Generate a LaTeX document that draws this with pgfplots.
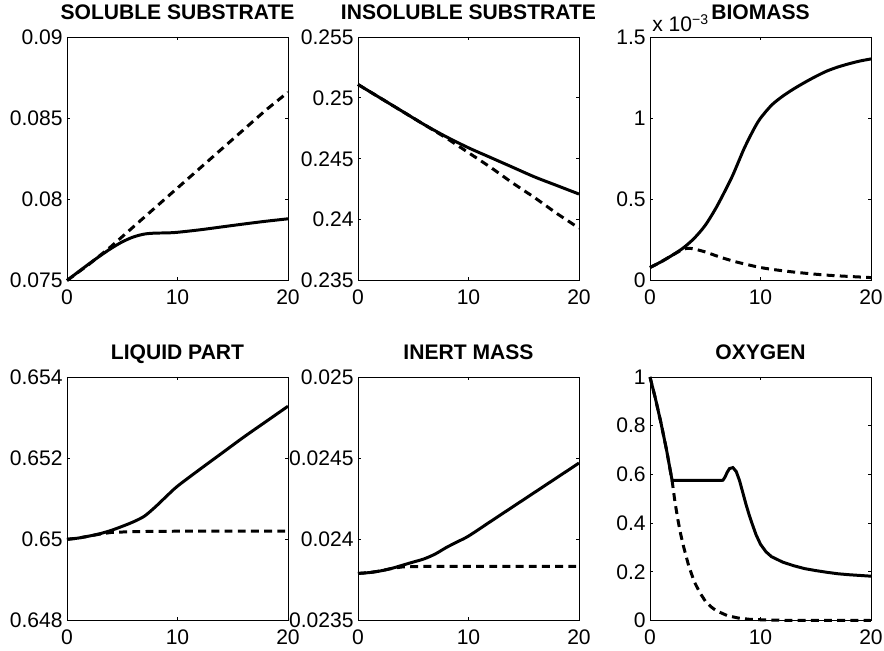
\documentclass[border=0pt]{standalone}
\usepackage{fontspec}
\setmainfont{Liberation Sans}
\usepackage{pgfplots}
\pgfplotsset{compat=1.18}

\pgfplotsset{
  mat/.style={
    scale only axis, width=4.42cm, height=4.87cm,
    anchor=north west,
    xmin=0, xmax=20, xtick={0,10,20}, xticklabels={0,10,20},
    tick align=inside, major tick length=0.06cm,
    axis line style={line width=0.5pt},
    every tick/.style={black, line width=0.5pt},
    ticklabel style={font=\fontsize{12}{14}\selectfont},
    yticklabel style={anchor=east, inner sep=0pt, xshift=-0.08cm},
    xticklabel style={anchor=north, inner sep=0pt, yshift=-0.18cm},
    every axis title/.style={font=\bfseries\fontsize{12}{14}\selectfont,
      at={(0.5,1)}, anchor=base, inner sep=0pt, yshift=0.34cm},
    scaled ticks=false,
    clip=false,
  },
  sol/.style={black, line width=1.7pt},
  das/.style={black, line width=1.7pt, dash pattern=on 4.5pt off 3pt},
}

\begin{document}
\begin{tikzpicture}
\useasboundingbox (0,0) rectangle (17.68cm,-13.02cm);

% soluble substrate
\begin{axis}[mat, at={(1.34cm,-0.74cm)}, title={SOLUBLE SUBSTRATE},
  ymin=0.075, ymax=0.09, ytick={0.075,0.08,0.085,0.09},
  yticklabels={0.075,0.08,0.085,0.09}]
\addplot[das] coordinates {(0,0.0750) (2,0.0760) (4,0.0771) (6,0.0783) (8,0.0795)
  (10,0.0807) (12,0.0819) (14,0.0831) (16,0.0843) (18,0.0855) (20,0.0866)};
\addplot[sol, smooth] coordinates {(0,0.0750) (1,0.07552) (2,0.07603) (3,0.07652)
  (4,0.07698) (5,0.07738) (6,0.07768) (7,0.07786) (8,0.07792) (9,0.07793)
  (10,0.07797) (12,0.07812) (14,0.07830) (16,0.07848) (18,0.07865) (20,0.0788)};
\end{axis}

% insoluble substrate
\begin{axis}[mat, at={(7.16cm,-0.74cm)}, title={INSOLUBLE SUBSTRATE},
  ymin=0.235, ymax=0.255, ytick={0.235,0.24,0.245,0.25,0.255},
  yticklabels={0.235,0.24,0.245,0.25,0.255}]
\addplot[das] coordinates {(0,0.2511) (2,0.2500) (4,0.2489) (6,0.2478) (8,0.2467)
  (10,0.2455) (12,0.2443) (14,0.2430) (16,0.2418) (18,0.2405) (20,0.2393)};
\addplot[sol, smooth] coordinates {(0,0.2511) (2,0.2500) (4,0.2489) (6,0.2478)
  (8,0.2468) (10,0.2459) (12,0.2451) (14,0.2443) (16,0.2435) (18,0.2428) (20,0.2421)};
\end{axis}

% biomass
\begin{axis}[mat, at={(13.0cm,-0.74cm)}, title={BIOMASS},
  ymin=0, ymax=1.5, ytick={0,0.5,1,1.5}, yticklabels={0,0.5,1,1.5}]
\addplot[das, smooth] coordinates {(0,0.08) (1,0.115) (2,0.155) (3,0.192) (3.5,0.198)
  (4,0.194) (5,0.176) (6,0.152) (7,0.13) (8,0.111) (10,0.08) (12,0.06) (14,0.045)
  (16,0.033) (18,0.025) (20,0.018)};
\addplot[sol, smooth] coordinates {(0,0.08) (1,0.115) (2,0.155) (3,0.20) (4,0.26)
  (5,0.34) (6,0.45) (7,0.58) (7.5,0.65) (8,0.73) (8.5,0.81) (9,0.88) (9.5,0.945)
  (10,1.00) (11,1.08) (12,1.135) (13,1.18) (14,1.22) (15,1.257) (16,1.29) (17,1.315)
  (18,1.335) (19,1.352) (20,1.365)};
\node[anchor=base west, inner sep=0pt, font=\fontsize{12}{14}\selectfont]
  at (rel axis cs:0,1) [yshift=0.1cm, xshift=0.04cm] {x 10\textsuperscript{−3}};
\end{axis}

% liquid part
\begin{axis}[mat, at={(1.34cm,-7.54cm)}, title={LIQUID PART},
  ymin=0.648, ymax=0.654, ytick={0.648,0.65,0.652,0.654},
  yticklabels={0.648,0.65,0.652,0.654}]
\addplot[das] coordinates {(0,0.65) (1,0.65003) (2,0.65008) (3,0.65013) (4,0.65017)
  (6,0.65019) (10,0.6502) (20,0.6502)};
\addplot[sol, smooth] coordinates {(0,0.6500) (1,0.65003) (2,0.65008) (3,0.65014)
  (4,0.65022) (5,0.65032) (6,0.65043) (7,0.65057) (8,0.6508) (9,0.65106) (10,0.65131)
  (12,0.65172) (14,0.65212) (16,0.65252) (18,0.6529) (20,0.65328)};
\end{axis}

% inert mass
\begin{axis}[mat, at={(7.16cm,-7.54cm)}, title={INERT MASS},
  ymin=0.0235, ymax=0.025, ytick={0.0235,0.024,0.0245,0.025},
  yticklabels={0.0235,0.024,0.0245,0.025}]
\addplot[das] coordinates {(0,0.02379) (1,0.023795) (2,0.023805) (3,0.02382)
  (4,0.02383) (6,0.023833) (20,0.023834)};
\addplot[sol, smooth] coordinates {(0,0.02379) (1,0.023795) (2,0.023805) (3,0.02382)
  (4,0.02384) (5,0.02386) (6,0.02388) (7,0.02391) (8,0.02395) (9,0.023985)
  (10,0.02402) (12,0.02411) (14,0.0242) (16,0.02429) (18,0.02438) (20,0.02447)};
\end{axis}

% oxygen
\begin{axis}[mat, at={(13.0cm,-7.54cm)}, title={OXYGEN},
  ymin=0, ymax=1, ytick={0,0.2,0.4,0.6,0.8,1}, yticklabels={0,0.2,0.4,0.6,0.8,1}]
\addplot[das] coordinates {(0,1) (0.5,0.91) (1,0.81) (1.5,0.70) (2,0.575) (2.25,0.49)
  (2.5,0.42) (2.75,0.36) (3,0.31) (3.5,0.225) (4,0.16) (4.5,0.115) (5,0.08) (5.5,0.057)
  (6,0.04) (7,0.02) (8,0.01) (9,0.005) (10,0.003) (12,0.001) (20,0)};
\addplot[sol] coordinates {(0,1) (0.5,0.91) (1,0.81) (1.5,0.70) (2,0.575) (3,0.575)
  (4,0.575) (5,0.575) (6,0.575) (6.6,0.576) (6.8,0.59) (7,0.61) (7.2,0.624) (7.5,0.628)
  (7.8,0.612) (8.1,0.575) (8.4,0.525) (8.7,0.475) (9,0.43) (9.3,0.39) (9.6,0.352)
  (10,0.313) (10.5,0.282) (11,0.262) (12,0.24) (13,0.225) (14,0.213) (15,0.205)
  (16,0.198) (17,0.192) (18,0.188) (19,0.185) (20,0.182)};
\end{axis}
\end{tikzpicture}
\end{document}
